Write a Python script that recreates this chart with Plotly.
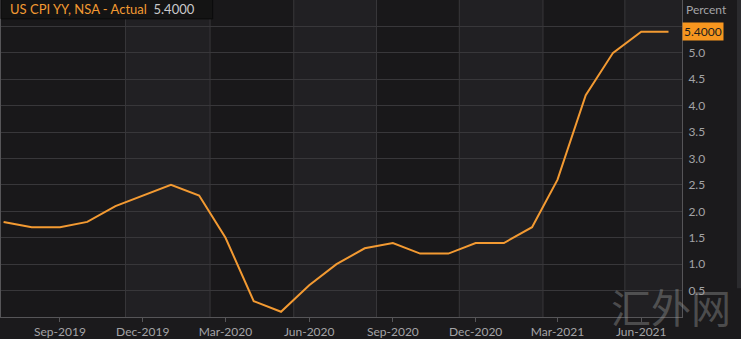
import plotly.graph_objects as go

months = ["2019-07-01", "2019-08-01", "2019-09-01", "2019-10-01", "2019-11-01", "2019-12-01",
          "2020-01-01", "2020-02-01", "2020-03-01", "2020-04-01", "2020-05-01", "2020-06-01",
          "2020-07-01", "2020-08-01", "2020-09-01", "2020-10-01", "2020-11-01", "2020-12-01",
          "2021-01-01", "2021-02-01", "2021-03-01", "2021-04-01", "2021-05-01", "2021-06-01",
          "2021-07-01"]
cpi_yy = [1.8, 1.7, 1.7, 1.8, 2.1, 2.3,
          2.5, 2.3, 1.5, 0.3, 0.1, 0.6,
          1.0, 1.3, 1.4, 1.2, 1.2, 1.4,
          1.4, 1.7, 2.6, 4.2, 5.0, 5.4,
          5.4]
y_ticks = [0.5, 1.0, 1.5, 2.0, 2.5, 3.0, 3.5, 4.0, 4.5, 5.0, 5.5]
x_ticks = ["2019-09-01", "2019-12-01", "2020-03-01", "2020-06-01",
           "2020-09-01", "2020-12-01", "2021-03-01", "2021-06-01"]
x_tick_labels = ["Sep-2019", "Dec-2019", "Mar-2020", "Jun-2020",
                 "Sep-2020", "Dec-2020", "Mar-2021", "Jun-2021"]
# band boundaries (background column shading)
band_edges = ["2019-11-12", "2020-02-13", "2020-05-15", "2020-08-14",
              "2020-11-13", "2021-02-13", "2021-05-14", "2021-07-15 20:00"]
series_name = "US CPI YY, NSA - Actual"
last_value = "5.4000"

W, H = 741, 339
PW, PH = 682, 319  # plot area size in px

ORANGE = "#f39a32"
GRID = "#38373a"
AXIS = "#565558"
TXT = "#a3a3a6"
FONT = "Lato"

fig = go.Figure()
fig.add_trace(go.Scatter(x=months, y=cpi_yy, mode="lines",
                         line=dict(color=ORANGE, width=2), hoverinfo="x+y"))

shapes = []
# light bands
for i in range(0, len(band_edges) - 1, 2):
    shapes.append(dict(type="rect", xref="x", yref="paper", x0=band_edges[i], x1=band_edges[i + 1],
                       y0=0, y1=1, fillcolor="#212023", line=dict(width=0), layer="below"))
# vertical grid lines
for e in band_edges[:-1]:
    shapes.append(dict(type="line", xref="x", yref="paper", x0=e, x1=e, y0=0, y1=1,
                       line=dict(color=GRID, width=1), layer="below"))
# header box
shapes.append(dict(type="rect", xref="paper", yref="paper", x0=0, x1=212 / PW, y0=1 - 19 / PH, y1=1.01,
                   fillcolor="#141414", line=dict(color="#0b0b0b", width=1), layer="above"))
# scrollbar strip at right
shapes.append(dict(type="rect", xref="paper", yref="paper", x0=737 / PW, x1=742 / PW, y0=1 - 290 / PH, y1=1,
                   fillcolor="#2b2b2e", line=dict(width=0)))

annotations = [
    dict(xref="paper", yref="paper", x=7 / PW, y=1 - 9.5 / PH, xanchor="left", yanchor="middle",
         showarrow=False,
         text=f"<span style='color:{ORANGE}'>{series_name}</span>  <span style='color:#c9c9cb'>{last_value}</span>",
         font=dict(family=FONT, size=13)),
    dict(xref="paper", yref="paper", x=1, xshift=2, y=1, yanchor="top", xanchor="left",
         showarrow=False, text="Percent", font=dict(family=FONT, size=12, color=TXT)),
    dict(xref="paper", yref="y", x=1, y=cpi_yy[-1], xanchor="left", yanchor="middle", showarrow=False,
         text=last_value, bgcolor="#f7961f", font=dict(family=FONT, size=12, color="#1c1c1c"),
         borderpad=1),
    dict(xref="paper", yref="paper", x=671 / PW, y=1 - 308 / PH, xanchor="center", yanchor="middle",
         showarrow=False, text="汇外网",
         font=dict(family="Noto Sans CJK SC", size=40, color="rgba(160,160,160,0.38)")),
]

fig.update_layout(
    width=W, height=H,
    margin=dict(l=0, r=W - PW, t=0, b=H - PH, pad=0),
    paper_bgcolor="#1b1a1c", plot_bgcolor="#19181a",
    showlegend=False,
    font=dict(family=FONT, size=11, color=TXT),
    shapes=shapes, annotations=annotations,
    xaxis=dict(range=["2019-06-28 04:00", "2021-07-15 20:00"], tickvals=x_ticks, ticktext=x_tick_labels,
               showgrid=False, zeroline=False, showline=True, linecolor=AXIS, linewidth=1,
               ticks="outside", ticklen=4, tickcolor=AXIS, tickfont=dict(size=12, color=TXT)),
    yaxis=dict(range=[0, 6], side="right", tickvals=y_ticks, ticktext=[f"{v:.1f}" for v in y_ticks],
               showgrid=True, gridcolor=GRID, gridwidth=1, zeroline=False,
               showline=True, mirror=True, linecolor=AXIS, linewidth=1,
               ticks="", ticklabelstandoff=3, tickfont=dict(size=12, color=TXT)),
)

fig.write_html("out.html", config={"displayModeBar": False})
